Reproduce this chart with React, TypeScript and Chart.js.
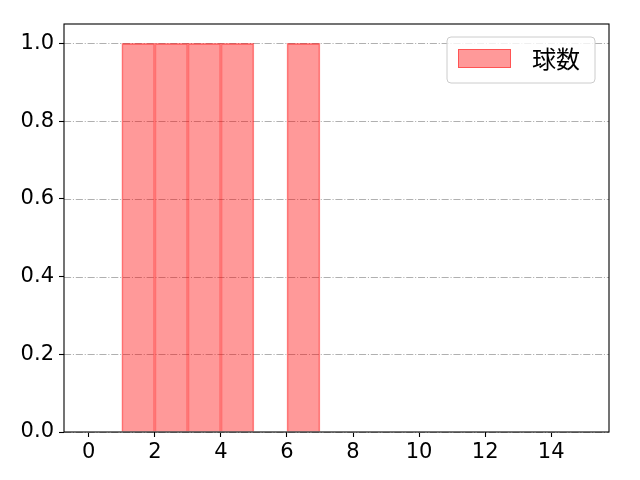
import React, { useEffect, useRef } from 'react';
import { Chart, registerables } from 'chart.js';

Chart.register(...registerables);

// histogram bins (left edges, width 1) and counts
const binLefts = [1, 2, 3, 4, 6];
const counts = [1, 1, 1, 1, 1];
const binWidth = 1;
const seriesLabel = '球数';
const xTicks = [0, 2, 4, 6, 8, 10, 12, 14];
const yTicks = [0, 0.2, 0.4, 0.6, 0.8, 1.0];

const TICK_FONT = '"DejaVu Sans", sans-serif';
const CJK_FONT = '"Noto Sans CJK JP", "Noto Sans", sans-serif';

const framePlugin = {
    id: 'frame',
    beforeDatasetsDraw(chart: any) {
        const { ctx, chartArea, scales } = chart;
        ctx.save();
        ctx.strokeStyle = '#b0b0b0';
        ctx.lineWidth = 1.1;
        ctx.setLineDash([7.1, 1.8, 1.1, 1.8]);
        yTicks.forEach((v) => {
            const y = Math.round(scales.y.getPixelForValue(v)) + 0.5;
            ctx.beginPath();
            ctx.moveTo(chartArea.left, y);
            ctx.lineTo(chartArea.right, y);
            ctx.stroke();
        });
        ctx.restore();
    },
    afterDraw(chart: any) {
        const { ctx, chartArea } = chart;
        ctx.save();
        ctx.strokeStyle = '#000';
        ctx.lineWidth = 1.1;
        ctx.strokeRect(chartArea.left, chartArea.top, chartArea.right - chartArea.left, chartArea.bottom - chartArea.top);

        // legend box, upper right inside the axes
        const ds = chart.data.datasets[0];
        const w = 148, h = 46;
        const x = chartArea.right - 14 - w;
        const y = chartArea.top + 13;
        ctx.beginPath();
        ctx.roundRect(x, y, w, h, 4);
        ctx.fillStyle = 'rgba(255,255,255,0.8)';
        ctx.fill();
        ctx.strokeStyle = '#cccccc';
        ctx.lineWidth = 1;
        ctx.stroke();
        ctx.fillStyle = ds.backgroundColor;
        ctx.fillRect(x + 11, y + 12, 53, 19);
        ctx.strokeStyle = ds.borderColor;
        ctx.strokeRect(x + 11.5, y + 12.5, 52, 18);
        ctx.fillStyle = '#000';
        ctx.font = `24px ${CJK_FONT}`;
        ctx.textBaseline = 'middle';
        ctx.fillText(ds.label, x + 85, y + 22);
        ctx.restore();
    },
};

const HistChart: React.FC = () => {
    const chartRef = useRef<HTMLCanvasElement | null>(null);

    useEffect(() => {
        document.body.style.margin = '0';
        if (!chartRef.current) return;
        const ctx = chartRef.current.getContext('2d');
        if (!ctx) return;
        const chart = new Chart(ctx, {
            type: 'bar',
            data: {
                datasets: [{
                    label: seriesLabel,
                    data: binLefts.map((l, i) => ({ x: l + binWidth / 2, y: counts[i] })),
                    backgroundColor: 'rgba(255, 0, 0, 0.4)',
                    borderColor: 'rgba(255, 0, 0, 0.45)',
                    borderWidth: 1,
                    barPercentage: 1,
                    categoryPercentage: 1,
                }],
            },
            plugins: [framePlugin],
            options: {
                responsive: false,
                animation: false,
                devicePixelRatio: 1,
                layout: { padding: { top: 24, right: 31, left: 0, bottom: 0 } },
                plugins: { legend: { display: false }, tooltip: { enabled: false } },
                scales: {
                    x: {
                        type: 'linear',
                        min: -0.75,
                        max: 15.75,
                        offset: false,
                        afterBuildTicks: (s: any) => { s.ticks = xTicks.map((v) => ({ value: v })); },
                        afterFit: (s: any) => { s.height = 48; },
                        grid: { display: true, drawOnChartArea: false, offset: false, tickLength: 5, tickColor: '#000', tickWidth: 1.1 },
                        border: { display: false },
                        ticks: { color: '#000', font: { family: TICK_FONT, size: 21 }, padding: 3, maxRotation: 0 },
                    },
                    y: {
                        min: 0,
                        max: 1.05,
                        afterBuildTicks: (s: any) => { s.ticks = yTicks.map((v) => ({ value: v })); },
                        afterFit: (s: any) => { s.width = 64; },
                        grid: { display: true, drawOnChartArea: false, tickLength: 5, tickColor: '#000', tickWidth: 1.1 },
                        border: { display: false },
                        ticks: { color: '#000', font: { family: TICK_FONT, size: 21 }, padding: 5, callback: (v: any) => Number(v).toFixed(1) },
                    },
                },
            },
        });
        return () => {
            chart.destroy();
        };
    }, []);

    return <canvas ref={chartRef} width={640} height={480}></canvas>;
};

export default function App() {
    return (
        <div style={{ width: 640, height: 480 }}>
            <HistChart />
        </div>
    );
}
